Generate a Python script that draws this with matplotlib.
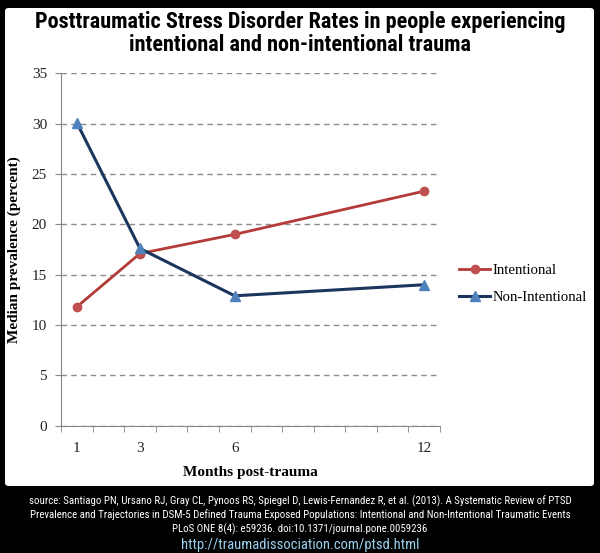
import matplotlib.pyplot as plt
from matplotlib.patches import FancyBboxPatch

# data
months = [1, 3, 6, 12]
intentional = [11.8, 17.1, 19.0, 23.3]
non_intentional = [30.1, 17.6, 12.9, 14.0]
y_ticks = [0, 5, 10, 15, 20, 25, 30, 35]

serif = ['Liberation Serif', 'DejaVu Serif']
narrow = ['Liberation Sans Narrow', 'Roboto Condensed', 'DejaVu Sans Condensed', 'Roboto', 'DejaVu Sans']

fig = plt.figure(figsize=(6, 5.53), dpi=100, facecolor='black')

# white panel
panel = FancyBboxPatch((5 / 600, 1 - 486 / 553), 589 / 600, 478 / 553,
                       boxstyle='round,pad=0,rounding_size=0.006',
                       transform=fig.transFigure, facecolor='white', edgecolor='none', zorder=-5)
fig.patches.append(panel)

ax = fig.add_axes([61 / 600, 1 - 425.7 / 553, 379 / 600, 352.4 / 553])
ax.set_facecolor('none')

ax.plot(months, intentional, color='#B23B38', lw=2.0, marker='o', ms=6,
        mfc='#C0504D', mec='#C0504D', label='Intentional', zorder=3)
ax.plot(months, non_intentional, color='#1C355E', lw=2.2, marker='^', ms=7,
        mfc='#4F81BD', mec='#4F81BD', label='Non-Intentional', zorder=4)

ax.set_xlim(0.5, 12.5)
ax.set_ylim(0, 35)
ax.set_xticks(months)
ax.set_xticklabels([str(m) for m in months])
ax.set_xticks([i + 0.5 for i in range(13)], minor=True)
ax.tick_params(axis='x', which='major', length=0, pad=12)
ax.tick_params(axis='x', which='minor', length=4, color='#868686', direction='out')
ax.set_yticks(y_ticks)
ax.tick_params(axis='y', length=4, color='#868686', direction='out', pad=6)
for lbl in ax.get_xticklabels() + ax.get_yticklabels():
    lbl.set_family(serif)
    lbl.set_fontsize(11)
    lbl.set_color('#222222')

ax.grid(axis='y', color='#8c8c8c', lw=1, linestyle=(0, (4, 3)))
ax.set_axisbelow(True)
for s in ['top', 'right']:
    ax.spines[s].set_visible(False)
for s in ['left', 'bottom']:
    ax.spines[s].set_color('#868686')

ax.set_xlabel('Months post-trauma', family=serif, fontweight='bold', fontsize=11, labelpad=8)
fig.text(14 / 600, 1 - 250 / 553, 'Median prevalence (percent)', rotation=90,
         ha='center', va='center', family=serif, fontweight='bold', fontsize=11)

fig.legend(loc='center left', bbox_to_anchor=(446 / 600, 1 - 284 / 553), frameon=False,
           prop={'family': serif, 'size': 10.6}, handlelength=2.1, handletextpad=0.15,
           labelspacing=0.95)

fig.text(0.5, 1 - 22 / 553, 'Posttraumatic Stress Disorder Rates in people experiencing',
         ha='center', va='center', family=narrow, fontweight='bold', fontsize=16)
fig.text(0.5, 1 - 45 / 553, 'intentional and non-intentional trauma',
         ha='center', va='center', family=narrow, fontweight='bold', fontsize=16)

source = ['source: Santiago PN, Ursano RJ, Gray CL, Pynoos RS, Spiegel D, Lewis-Fernandez R, et al. (2013). A Systematic Review of PTSD',
          'Prevalence and Trajectories in DSM-5 Defined Trauma Exposed Populations: Intentional and Non-Intentional Traumatic Events',
          'PLoS ONE 8(4): e59236. doi:10.1371/journal.pone.0059236']
for i, line in enumerate(source):
    fig.text(0.5, 1 - (501 + 14 * i) / 553, line, ha='center', va='center',
             family=narrow, fontsize=7.85, color='white')
fig.text(0.5, 1 - 545 / 553, 'http://traumadissociation.com/ptsd.html', ha='center', va='center',
         family=narrow, fontsize=10.5, color='#9BD0EE')

fig.savefig('out.png', dpi=100, facecolor='black')
